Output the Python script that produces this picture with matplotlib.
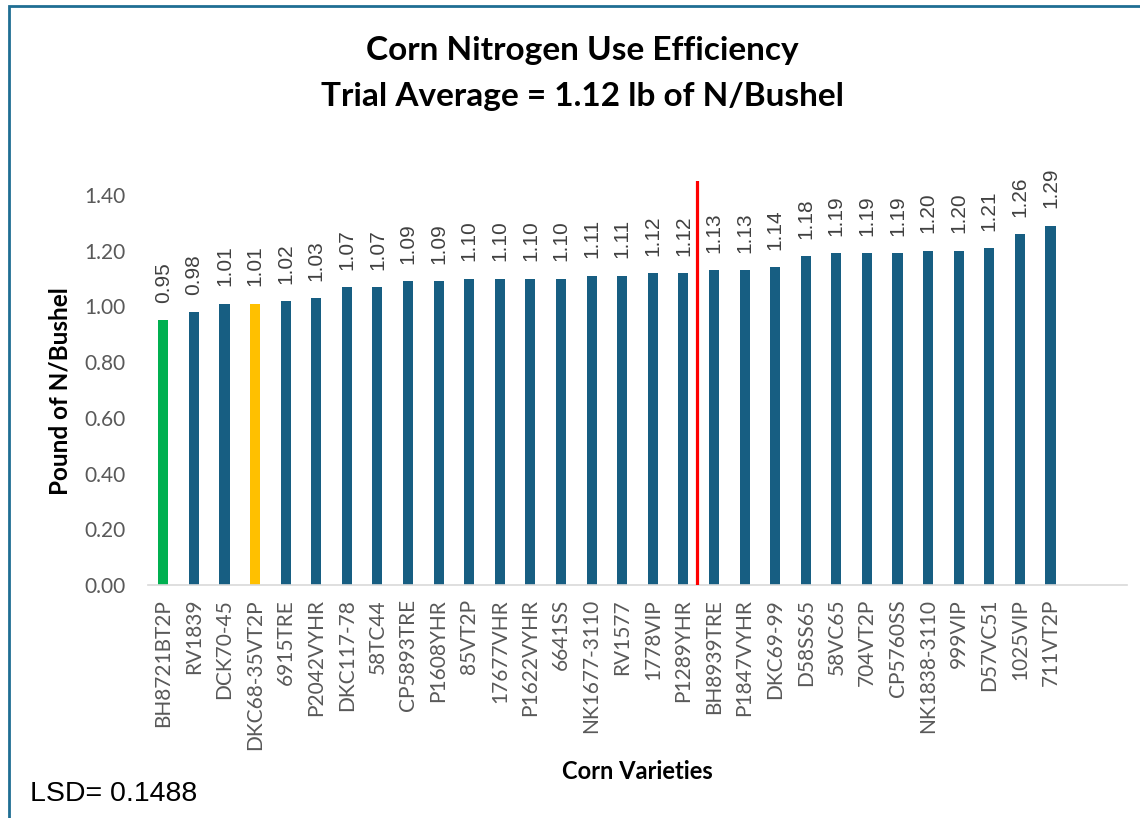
import matplotlib
matplotlib.use("Agg")
import matplotlib.pyplot as plt
import numpy as np
from matplotlib.patches import Rectangle

varieties = ["BH8721BT2P", "RV1839", "DCK70-45", "DKC68-35VT2P", "6915TRE",
             "P2042VYHR", "DKC117-78", "58TC44", "CP5893TRE", "P1608YHR",
             "85VT2P", "17677VHR", "P1622VYHR", "6641SS", "NK1677-3110",
             "RV1577", "1778VIP", "P1289YHR", "BH8939TRE", "P1847VYHR",
             "DKC69-99", "D58SS65", "58VC65", "704VT2P", "CP5760SS",
             "NK1838-3110", "999VIP", "D57VC51", "1025VIP", "711VT2P"]
n_per_bu = [0.95, 0.98, 1.01, 1.01, 1.02, 1.03, 1.07, 1.07, 1.09, 1.09,
            1.10, 1.10, 1.10, 1.10, 1.11, 1.11, 1.12, 1.12, 1.13, 1.13,
            1.14, 1.18, 1.19, 1.19, 1.19, 1.20, 1.20, 1.21, 1.26, 1.29]
trial_avg = 1.12
lsd = 0.1488

def main():
    plt.rcParams['font.family'] = ['Lato', 'DejaVu Sans']
    fig = plt.figure(figsize=(11.4, 8.18), dpi=100)
    ax = fig.add_axes([0.1298, 0.2848, 0.8588, 0.4939])

    colors = ['#175E82'] * len(varieties)
    colors[0] = '#00B050'
    colors[3] = '#FFC000'
    x = np.arange(len(varieties))
    ax.bar(x, n_per_bu, width=0.33, color=colors, zorder=2)

    for xi, v in zip(x, n_per_bu):
        ax.text(xi, v + 0.062, f"{v:.2f}", rotation=90, ha='center', va='bottom',
                fontsize=15, color='#404040', family='Liberation Sans')

    # line marking the trial average between the last 1.12 and first 1.13
    ax.plot([17.45, 17.45], [0, 1.45], color='#FF0000', lw=2.3, zorder=3)

    ax.set_xlim(-0.5, 31.5)
    ax.set_ylim(0, 1.45)
    ax.set_yticks(np.arange(0, 1.41, 0.2))
    ax.set_yticklabels([f"{t:.2f}" for t in np.arange(0, 1.41, 0.2)])
    ax.set_xticks(x)
    ax.set_xticklabels(varieties, rotation=90)
    ax.tick_params(axis='both', length=0, labelsize=15, colors='#595959')
    ax.tick_params(axis='x', pad=10)
    ax.tick_params(axis='y', pad=16)
    for s in ['top', 'right', 'left']:
        ax.spines[s].set_visible(False)
    ax.spines['bottom'].set_color('#D9D9D9')
    ax.spines['bottom'].set_linewidth(1.2)

    ax.set_ylabel("Pound of N/Bushel", fontsize=17.5, fontweight='bold')
    ax.yaxis.set_label_coords(-0.0777, 0.48)
    fig.text(0.559, 0.057, "Corn Varieties", ha='center', va='center',
             fontsize=17, fontweight='bold')
    fig.text(0.511, 0.910, "Corn Nitrogen Use Efficiency\nTrial Average = 1.12 lb of N/Bushel",
             ha='center', va='center', fontsize=24, fontweight='bold', linespacing=1.7)
    fig.text(0.026, 0.029, f"LSD= {lsd}", ha='left', va='center', fontsize=20.5,
             family='Liberation Sans', color='black')

    # chart border (extends past right/bottom edges)
    fig.patches.append(Rectangle((9 / 1140, -0.05), 1.2, 1 - 6 / 818 + 0.05,
                                 transform=fig.transFigure, fill=False,
                                 edgecolor='#1F6E93', lw=2))

    plt.savefig("out.png", dpi=100)

if __name__ == "__main__":
    main()
